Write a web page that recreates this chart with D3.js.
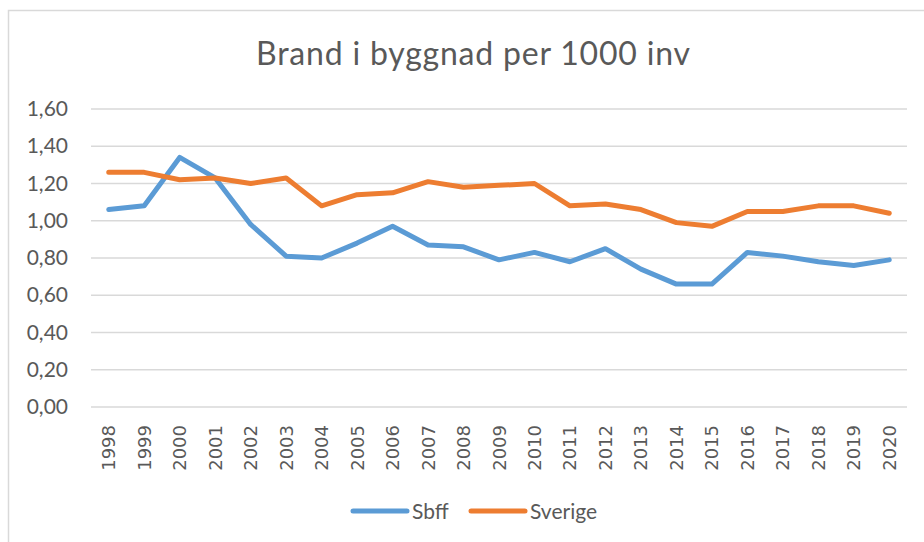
<!DOCTYPE html>
<html>
<head>
<meta charset="utf-8">
<script src="https://cdn.jsdelivr.net/npm/d3@7/dist/d3.min.js"></script>
<style>
  html, body { margin: 0; padding: 0; background: #fff; }
  svg { display: block; }
</style>
</head>
<body>
<svg id="chart" width="924" height="542"></svg>
<script>
const years = ["1998","1999","2000","2001","2002","2003","2004","2005","2006","2007","2008","2009","2010","2011","2012","2013","2014","2015","2016","2017","2018","2019","2020"];
const sbff = [1.06,1.08,1.34,1.23,0.98,0.81,0.80,0.88,0.97,0.87,0.86,0.79,0.83,0.78,0.85,0.74,0.66,0.66,0.83,0.81,0.78,0.76,0.79];
const sverige = [1.26,1.26,1.22,1.23,1.20,1.23,1.08,1.14,1.15,1.21,1.18,1.19,1.20,1.08,1.09,1.06,0.99,0.97,1.05,1.05,1.08,1.08,1.04];
const yTicks = [0,0.2,0.4,0.6,0.8,1.0,1.2,1.4,1.6];
const seriesNames = ["Sbff","Sverige"];
const colors = ["#5B9BD5","#ED7D31"];
const title = "Brand i byggnad per 1000 inv";

const svg = d3.select("#chart");
const textColor = "#595959";
const font = "Lato, 'Open Sans', sans-serif";

// outer border
svg.append("rect").attr("x", 8.5).attr("y", 10.5).attr("width", 940).attr("height", 560)
  .attr("fill", "none").attr("stroke", "#D9D9D9").attr("stroke-width", 1.5);

const pLeft = 91, pRight = 907, pTop = 109, pBottom = 407;
const x = d3.scaleBand().domain(years).range([pLeft, pRight]);
const y = d3.scaleLinear().domain([0, 1.6]).range([pBottom, pTop]);

// title
svg.append("text").attr("x", 473).attr("y", 64.5).attr("text-anchor", "middle")
  .attr("font-family", font).attr("font-size", 32).attr("fill", textColor)
  .attr("textLength", 434).attr("lengthAdjust", "spacing").text(title);

// gridlines
svg.append("g").selectAll("line").data(yTicks).join("line")
  .attr("x1", pLeft).attr("x2", pRight)
  .attr("y1", d => y(d)).attr("y2", d => y(d))
  .attr("stroke", "#D9D9D9").attr("stroke-width", 1.5);

// y axis labels
const yAxis = d3.axisLeft(y).tickValues(yTicks).tickSize(0).tickPadding(0)
  .tickFormat(d => d3.format(".2f")(d).replace(".", ","));
const gy = svg.append("g").attr("transform", `translate(68,0)`).call(yAxis);
gy.select(".domain").remove();
gy.selectAll("text").attr("font-family", font).attr("font-size", 21).attr("fill", textColor);

// x axis labels
const xAxis = d3.axisBottom(x).tickSize(0).tickPadding(0);
const gx = svg.append("g").attr("transform", `translate(0,${pBottom})`).call(xAxis);
gx.select(".domain").remove();
gx.selectAll("text")
  .attr("font-family", "'DejaVu Sans', sans-serif").attr("font-size", 18).attr("fill", textColor)
  .attr("text-anchor", "end").attr("dy", null).attr("y", 0).attr("x", 0)
  .attr("dominant-baseline", "central")
  .attr("transform", "translate(0,18) rotate(-90)");

// lines
const line = d3.line().x((d, i) => x(years[i]) + x.bandwidth() / 2).y(d => y(d));
[sbff, sverige].forEach((s, k) => {
  svg.append("path").datum(s).attr("d", line).attr("fill", "none")
    .attr("stroke", colors[k]).attr("stroke-width", 5)
    .attr("stroke-linejoin", "round").attr("stroke-linecap", "round");
});

// legend
const legendPos = [353, 471];
seriesNames.forEach((name, k) => {
  const g = svg.append("g").attr("transform", `translate(${legendPos[k]},511)`);
  g.append("line").attr("x1", 0).attr("x2", 54).attr("y1", 0).attr("y2", 0)
    .attr("stroke", colors[k]).attr("stroke-width", 5).attr("stroke-linecap", "round");
  g.append("text").attr("x", 59).attr("y", 7.5).attr("font-family", font).attr("font-size", 21)
    .attr("fill", textColor).text(name);
});
</script>
</body>
</html>
